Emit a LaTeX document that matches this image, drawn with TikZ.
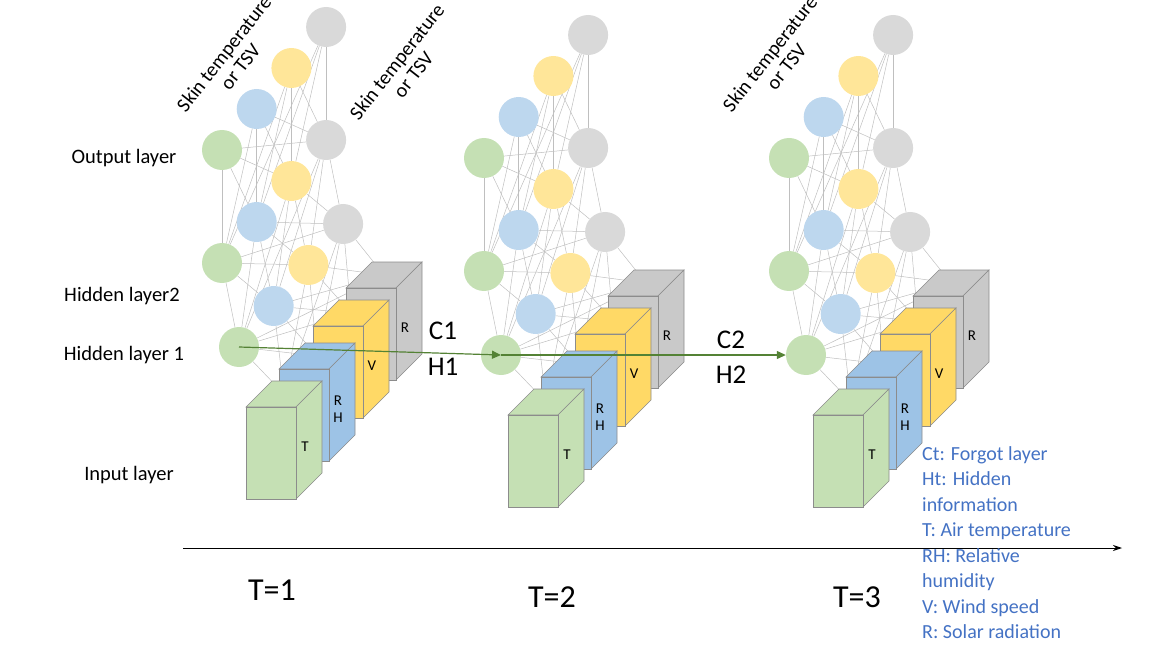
\documentclass[tikz,border=0pt]{standalone}
\usepackage{fontspec}
\setmainfont{Carlito}
\usetikzlibrary{backgrounds,arrows.meta}
\definecolor{cg}{HTML}{C5E0B4}\definecolor{cb}{HTML}{BDD7EE}
\definecolor{cy}{HTML}{FFE699}\definecolor{cr}{HTML}{D9D9D9}
\definecolor{bg}{HTML}{C5E0B4}\definecolor{bb}{HTML}{9DC3E6}
\definecolor{by}{HTML}{FFD966}\definecolor{br}{HTML}{C9C9C9}
\definecolor{arrg}{HTML}{548235}\definecolor{legc}{HTML}{4472C4}
\tikzset{x=1pt,y=-1pt,
 neuron/.style={circle,minimum size=40pt,inner sep=0,draw=none},
 conn/.style={draw=black!25,line width=0.5pt},
 box/.style={draw=black!45,line width=0.6pt},
 blab/.style={font=\fontsize{15}{15}\selectfont,align=center},
 lay/.style={font=\fontsize{20.5}{22}\selectfont},
 skin/.style={font=\fontsize{20}{21}\selectfont,align=center,rotate=52},
 garrow/.style={draw=arrg,line width=1.2pt,-{Triangle[length=9pt,width=8pt]}},
 tl/.style={font=\fontsize{32}{34}\selectfont},
 cl/.style={font=\fontsize{27}{29}\selectfont},
 leg/.style={font=\fontsize{20}{25.5}\selectfont,text=legc,align=left,anchor=north west,inner sep=0}}
\newcommand\mybox[4]{% x y color label
 \filldraw[box,fill=#3] (#1,#2) -- (#1+26,#2-26) -- (#1+76,#2-26) -- (#1+50,#2) -- cycle;
 \filldraw[box,fill=#3] (#1+50,#2) -- (#1+76,#2-26) -- (#1+76,#2+66) -- (#1+50,#2+92) -- cycle;
 \filldraw[box,fill=#3] (#1,#2) rectangle (#1+50,#2+92);
 \node[blab] at (#1+59,#2+40) {#4};}
\newcommand\mynet[3]{% id sx sy
 \foreach \l/\bx/\by in {1/239/347,2/222/263,3/222/150}{
  \foreach \k/\c in {0/cg,1/cb,2/cy,3/cr}{
   \node[neuron,fill=\c] (n#1-\l-\k) at ({\bx+34.7*\k+#2},{\by-41*\k+#3}) {};}}
 \foreach \k/\bx/\by in {0/246/407,1/279/369,2/313/326,3/346/288}{
   \coordinate (b#1-\k) at ({\bx+38+#2},{\by-13+#3});}
 \begin{pgfonlayer}{background}
 \foreach \a in {0,...,3}{\foreach \b in {0,...,3}{
   \draw[conn] (n#1-1-\a) -- (n#1-2-\b);
   \draw[conn] (n#1-2-\a) -- (n#1-3-\b);
   \draw[conn] (b#1-\a) -- (n#1-1-\b);}}
 \end{pgfonlayer}
 \mybox{346+#2}{288+#3}{br}{R}
 \mybox{313+#2}{326+#3}{by}{V}
 \mybox{279+#2}{369+#3}{bb}{R\\[2pt]H}
 \mybox{246+#2}{407+#3}{bg}{T}
}
\begin{document}
\begin{tikzpicture}
\useasboundingbox (0,0) rectangle (1159,647);
\mynet{1}{0}{0}
\mynet{2}{262}{8}
\mynet{3}{567}{8}
\node[skin] (s1) at (232,60) {Skin temperature\\or TSV};
\node[skin] (s2) at (405,68) {Skin temperature\\or TSV};
\node[skin] (s3) at (778,60) {Skin temperature\\or TSV};
\node[lay] (l1) at (124,158) {Output layer};
\node[lay] (l2) at (122,296) {Hidden layer2};
\node[lay] (l3) at (124,355) {Hidden layer 1};
\node[lay] (l4) at (129,475) {Input layer};
\draw[garrow] (n1-1-0.center) -- (n2-1-0.center);
\draw[garrow] (n2-1-0.center) -- (n3-1-0.west);
\node[cl] (c1) at (443,331) {C1};
\node[cl] (h1) at (443,367) {H1};
\node[cl] (c2) at (731,340) {C2};
\node[cl] (h2) at (731,375) {H2};
\coordinate (ax0) at (183,548);
\coordinate (ax1) at (1122,548);
\draw[line width=1pt,-{Stealth[length=9pt,width=6pt]}] (ax0) -- (ax1);
\node[tl] (t1) at (272,590) {T=1};
\node[tl] (t2) at (552,597) {T=2};
\node[tl] (t3) at (857,597) {T=3};
\node[leg] (leg) at (922,446) {Ct: Forgot layer\\Ht: Hidden\\information\\T: Air temperature\\RH: Relative\\humidity\\V: Wind speed\\R: Solar radiation};
\end{tikzpicture}
\end{document}
